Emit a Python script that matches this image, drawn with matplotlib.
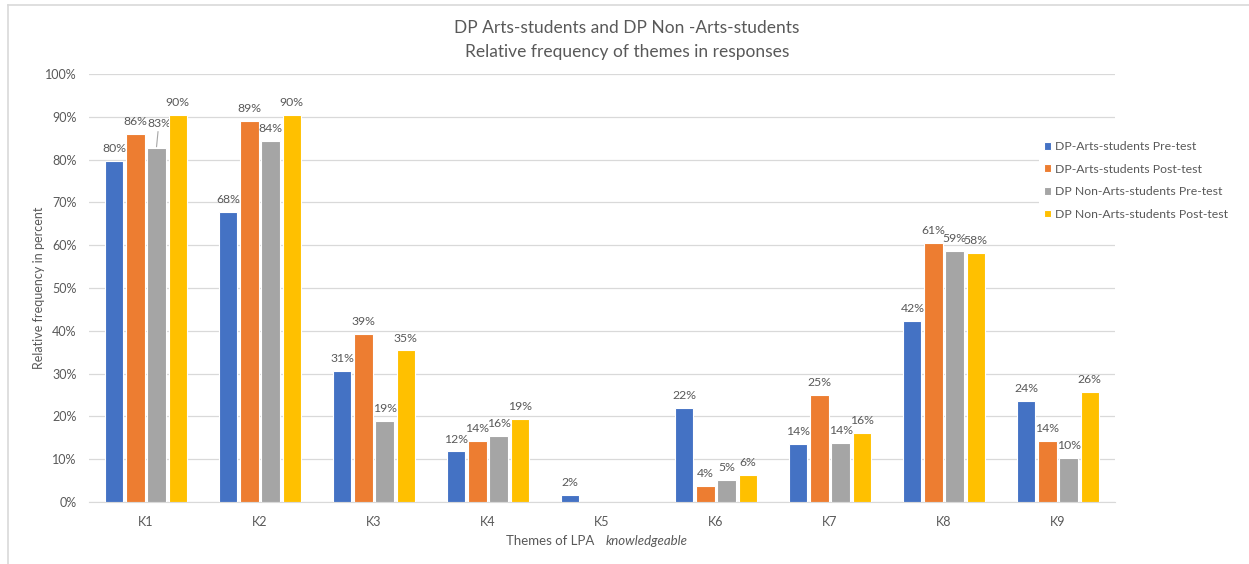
import matplotlib as mpl
mpl.use('Agg')
import matplotlib.pyplot as plt
from matplotlib.lines import Line2D
import numpy as np

plt.rcParams['font.family'] = ['Lato', 'DejaVu Sans']

# data (percent)
themes = ['K1', 'K2', 'K3', 'K4', 'K5', 'K6', 'K7', 'K8', 'K9']
series = ['DP-Arts-students Pre-test', 'DP-Arts-students Post-test',
          'DP Non-Arts-students Pre-test', 'DP Non-Arts-students Post-test']
arts_pre = [79.6, 67.8, 30.6, 11.8, 1.7, 22.0, 13.6, 42.4, 23.7]
arts_post = [85.9, 89.1, 39.3, 14.3, 0.0, 3.8, 25.0, 60.6, 14.3]
non_pre = [82.7, 84.4, 19.0, 15.5, 0.0, 5.1, 13.8, 58.6, 10.3]
non_post = [90.4, 90.4, 35.4, 19.3, 0.0, 6.4, 16.1, 58.1, 25.6]
yticks = [0, 10, 20, 30, 40, 50, 60, 70, 80, 90, 100]

colors = ['#4472C4', '#ED7D31', '#A5A5A5', '#FFC000']
txt = '#595959'

fig = plt.figure(figsize=(12.49, 5.64), dpi=100)
ax = fig.add_axes([89/1249, 1-502/564, (1115-89)/1249, (502-74)/564])

# outer frame (only top and left visible in the crop)
fig.add_artist(Line2D([8/1249, 1], [1-5/564, 1-5/564], color='#D9D9D9', lw=1.2))
fig.add_artist(Line2D([8/1249, 8/1249], [0, 1-5/564], color='#D9D9D9', lw=1.2))

x = np.arange(len(themes))
step = 0.185
width = 0.16
allvals = [arts_pre, arts_post, non_pre, non_post]
for i, vals in enumerate(allvals):
    xs = x + (i - 1.5) * step
    ax.bar(xs, vals, width=width, color=colors[i], edgecolor='white',
           linewidth=0.8, label=series[i], zorder=3)
    for j, (xx, v) in enumerate(zip(xs, vals)):
        if v <= 0:
            continue
        lab = '%d%%' % round(v)
        if i == 2 and j == 0:
            # label pulled up with a leader line, like the original
            ax.annotate(lab, xy=(xx, v + 0.3), xytext=(xx + 0.02, v + 4.5),
                        ha='center', va='bottom', fontsize=8.8, color=txt,
                        arrowprops=dict(arrowstyle='-', color='#A6A6A6', lw=0.8,
                                        shrinkA=0, shrinkB=0))
        else:
            ax.annotate(lab, xy=(xx, v), xytext=(0, 5), textcoords='offset points',
                        ha='center', va='bottom', fontsize=8.8, color=txt)

ax.set_xlim(-0.5, len(themes) - 0.5)
ax.set_ylim(0, 100)
ax.set_yticks(yticks)
ax.set_yticklabels(['%d%%' % t for t in yticks], fontsize=9, color=txt)
ax.set_xticks(x)
ax.set_xticklabels(themes, fontsize=9, color=txt)
ax.tick_params(axis='y', length=0, pad=9)
ax.tick_params(axis='x', length=0, pad=10)
ax.grid(axis='y', color='#D9D9D9', lw=0.9, zorder=0)
for s in ['top', 'right', 'left']:
    ax.spines[s].set_visible(False)
ax.spines['bottom'].set_color('#D9D9D9')

ax.set_ylabel('Relative frequency in percent', fontsize=9, color=txt, labelpad=0)

fig.text(594/1249, 1-541/564, 'Themes of LPA', ha='right', va='center',
         fontsize=9.5, color=txt)
fig.text(606/1249, 1-541/564, 'knowledgeable', ha='left', va='center',
         fontsize=9.5, color=txt, style='italic')

fig.text(0.502, 1-28/564, 'DP Arts-students and DP Non -Arts-students',
         ha='center', va='center', fontsize=12.5, color=txt)
fig.text(0.502, 1-52/564, 'Relative frequency of themes in responses',
         ha='center', va='center', fontsize=12.5, color=txt)

leg = ax.legend(loc='upper left', bbox_to_anchor=(1033/1249, 1-130/564),
                bbox_transform=fig.transFigure, fontsize=8.8, frameon=True,
                facecolor='white', edgecolor='none', framealpha=1,
                handlelength=0.6, handleheight=0.6, handletextpad=0.3,
                labelspacing=0.95, borderpad=0.4, fancybox=False)
for t in leg.get_texts():
    t.set_color(txt)
leg.set_zorder(10)

fig.savefig('out.png', dpi=100)
